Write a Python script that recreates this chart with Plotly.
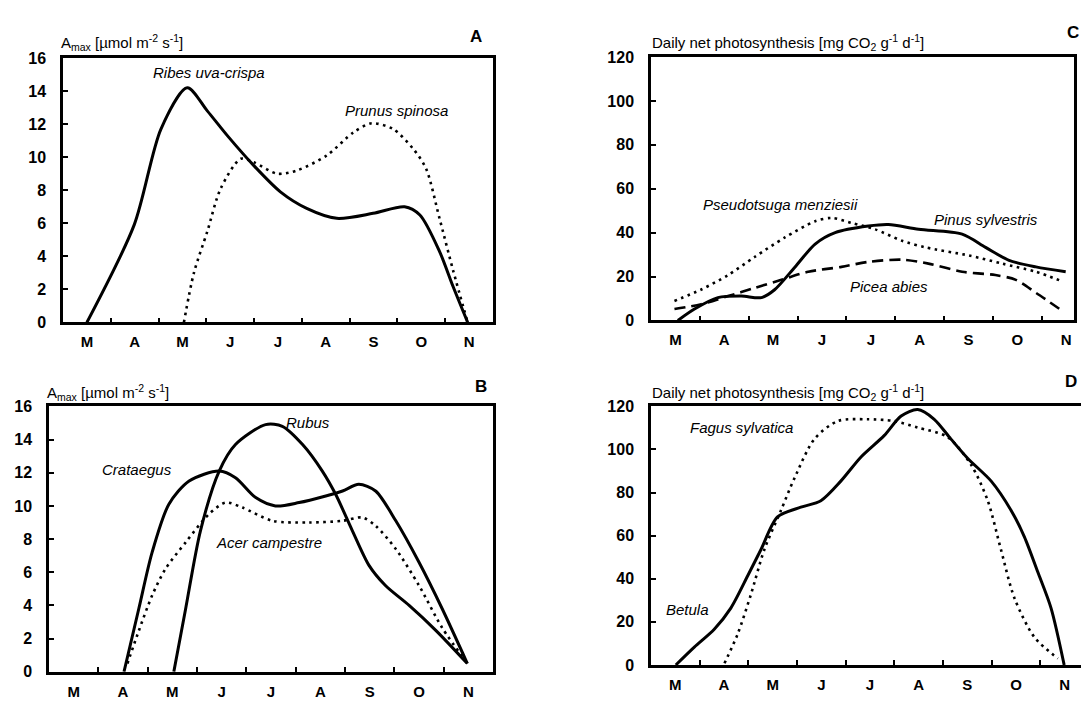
import plotly.graph_objects as go

# ---------------- data ----------------
months = ["M", "A", "M", "J", "J", "A", "S", "O", "N"]

# Panel A  (A_max, µmol m-2 s-1); x in months from start of March
ribes_x = [0.5, 1.49, 2.05, 2.6, 3.02, 3.44, 3.99, 4.55, 5.1, 5.73, 6.49, 7.15, 7.47, 7.88, 8.16, 8.47]
ribes_y = [0, 5.9, 11.7, 14.2, 12.8, 11.3, 9.5, 7.9, 6.9, 6.3, 6.6, 7.0, 6.5, 4.3, 2.2, 0]
prunus_x = [2.53, 2.74, 3.02, 3.3, 3.72, 3.99, 4.48, 4.9, 5.52, 6.08, 6.46, 6.91, 7.33, 7.6, 7.88, 8.16, 8.47]
prunus_y = [0, 3.0, 5.5, 8.1, 9.9, 9.7, 9.0, 9.2, 10.1, 11.5, 12.05, 11.7, 10.5, 9.3, 6.3, 3.2, 0]

# Panel B
crataegus_x = [1.52, 1.82, 2.09, 2.43, 2.84, 3.45, 3.78, 4.19, 4.59, 5.07, 5.61, 5.95, 6.28, 6.62, 7.03, 7.5, 7.97, 8.48]
crataegus_y = [0, 3.8, 7.2, 10.1, 11.5, 12.1, 11.7, 10.5, 10.0, 10.2, 10.6, 10.9, 11.3, 10.9, 9.1, 6.6, 3.8, 0.5]
rubus_x = [2.53, 2.77, 3.07, 3.45, 3.78, 4.39, 4.73, 5.14, 5.54, 5.81, 6.15, 6.49, 6.82, 7.3, 7.84, 8.48]
rubus_y = [0, 3.8, 8.5, 12.1, 13.7, 14.9, 14.8, 13.7, 12.1, 10.7, 8.5, 6.4, 5.2, 4.0, 2.5, 0.5]
acer_x = [1.59, 1.8, 2.09, 2.36, 2.77, 3.24, 3.58, 3.92, 4.53, 5.27, 5.95, 6.35, 6.62, 7.03, 7.5, 7.97, 8.48]
acer_y = [0.5, 2.3, 4.6, 6.2, 7.8, 9.5, 10.2, 9.9, 9.1, 9.0, 9.1, 9.3, 8.8, 7.4, 5.2, 2.65, 0.5]

# Panel C  (daily net photosynthesis, mg CO2 g-1 d-1)
pinus_x = [0.55, 0.89, 1.37, 1.85, 2.26, 2.53, 2.95, 3.36, 3.77, 4.45, 4.86, 5.48, 6.37, 6.85, 7.33, 7.88, 8.49]
pinus_y = [0, 5.2, 10.4, 11.1, 10.4, 14, 24.4, 34.8, 40, 43, 43.7, 41.5, 39.3, 33.3, 27.4, 24.4, 22.2]
pseudotsuga_x = [0.48, 1.03, 1.58, 2.12, 2.74, 3.36, 3.7, 4.11, 4.59, 5.14, 5.62, 6.51, 7.19, 7.88, 8.42]
pseudotsuga_y = [8.9, 14.1, 20.7, 28.9, 37.8, 45.2, 46.7, 44.4, 41.5, 36.3, 33.3, 29.6, 25.9, 22.2, 17.8]
picea_x = [0.48, 1.03, 1.58, 2.12, 2.67, 3.22, 3.9, 4.45, 5.14, 5.68, 6.37, 7.05, 7.47, 7.88, 8.42]
picea_y = [5.2, 7.4, 11.1, 14.8, 18.5, 22.2, 24.4, 26.7, 27.7, 25.9, 22.2, 20.7, 18.5, 12.6, 4.4]

# Panel D
betula_x = [0.51, 0.89, 1.3, 1.64, 1.99, 2.26, 2.6, 3.08, 3.49, 3.9, 4.32, 4.79, 5.14, 5.48, 5.82, 6.16, 6.51, 6.99, 7.4, 7.67, 7.95, 8.22, 8.49]
betula_y = [0, 8.3, 16.6, 26.4, 41.5, 53.6, 68.7, 73.2, 76.2, 85.3, 96.6, 106.4, 115.5, 118.5, 114, 104.9, 95.8, 85.3, 71.7, 59.6, 43, 26.4, 0]
fagus_x = [1.51, 1.78, 2.05, 2.33, 2.67, 2.95, 3.36, 3.84, 4.45, 4.99, 5.48, 6.1, 6.58, 6.92, 7.19, 7.47, 7.88, 8.36]
fagus_y = [0.8, 14.3, 32.5, 53.6, 71.7, 86.8, 104.9, 113.2, 114, 113.2, 110.2, 105.7, 92.8, 76.2, 53.6, 30.9, 12.8, 3]

amax_ticks = [0, 2, 4, 6, 8, 10, 12, 14, 16]
dnp_ticks = [0, 20, 40, 60, 80, 100, 120]

# ---------------- figure ----------------
W, H = 1089, 705
FONT = "Liberation Sans Narrow, Liberation Sans, Arial, sans-serif"

fig = go.Figure()

SOLID = dict(color="black", width=3, dash="solid")
DOT = dict(color="black", width=2.6, dash="2.6px,4.4px")
DASH = dict(color="black", width=2.6, dash="11px,6px")

def add(x, y, line, ax):
    fig.add_trace(go.Scatter(x=x, y=y, mode="lines", line=dict(shape="spline", smoothing=0.8, **line),
                             xaxis="x" + ax, yaxis="y" + ax, showlegend=False, hoverinfo="skip"))

add(ribes_x, ribes_y, SOLID, "")
add(prunus_x, prunus_y, DOT, "")
add(crataegus_x, crataegus_y, SOLID, "2")
add(rubus_x, rubus_y, SOLID, "2")
add(acer_x, acer_y, DOT, "2")
add(pinus_x, pinus_y, SOLID, "3")
add(pseudotsuga_x, pseudotsuga_y, DOT, "3")
add(picea_x, picea_y, DASH, "3")
add(betula_x, betula_y, SOLID, "4")
add(fagus_x, fagus_y, DOT, "4")

def px_dom(x0, x1):
    return [x0 / W, x1 / W]

def py_dom(top, bottom):
    return [1 - bottom / H, 1 - top / H]

panels = {
    "": dict(x=(55, 485), y=(43, 314), xr=9, yt=amax_ticks),
    "2": dict(x=(41, 485), y=(400, 672), xr=9, yt=amax_ticks),
    "3": dict(x=(643, 1066), y=(42, 312), xr=8.66, yt=dnp_ticks),
    "4": dict(x=(643, 1081), y=(400, 665), xr=9, yt=dnp_ticks),
}

layout = dict(width=W, height=H, margin=dict(l=0, r=0, t=0, b=0),
              paper_bgcolor="white", plot_bgcolor="white", showlegend=False)

month_centres = [i + 0.5 for i in range(len(months))]
month_bounds = list(range(1, len(months)))

for k, p in panels.items():
    xa = "xaxis" + k
    ya = "yaxis" + k
    layout[xa] = dict(domain=px_dom(*p["x"]), range=[0, p["xr"]], anchor="y" + k,
                      showline=True, mirror=True, linecolor="black", linewidth=2.5,
                      showgrid=False, zeroline=False, ticks="",
                      tickmode="array", tickvals=month_centres, ticktext=months,
                      tickfont=dict(family=FONT, size=15, color="black", weight="bold"),
                      ticklabelstandoff=4,
                      minor=dict(tickmode="array", tickvals=month_bounds, ticks="inside",
                                 ticklen=5, tickwidth=2, tickcolor="black", showgrid=False),
                      fixedrange=True)
    yr = [p["yt"][0], p["yt"][-1]]
    layout[ya] = dict(domain=py_dom(*p["y"]), range=yr, anchor="x" + k,
                      showline=True, mirror=True, linecolor="black", linewidth=2.5,
                      showgrid=False, zeroline=False, ticks="inside", ticklen=5, tickwidth=2,
                      tickcolor="black", tickmode="array", tickvals=p["yt"],
                      tickfont=dict(family=FONT, size=16, color="black", weight="bold"),
                      ticklabelstandoff=11, fixedrange=True)

fig.update_layout(**layout)

amax_title = "A<sub>max</sub> [µmol m<sup>-2</sup> s<sup>-1</sup>]"
dnp_title = "Daily net photosynthesis [mg CO<sub>2</sub> g<sup>-1</sup> d<sup>-1</sup>]"

def paper_note(text, x, y, size, xanchor="left", bold=False):
    fig.add_annotation(text=text, x=x / W, y=1 - y / H, xref="paper", yref="paper",
                       xanchor=xanchor, yanchor="middle", showarrow=False,
                       font=dict(family=FONT, size=size, color="black",
                                 weight="bold" if bold else "normal"))

paper_note(amax_title, 51, 27, 15)
paper_note(amax_title, 37, 386, 15)
paper_note(dnp_title, 642, 27, 15)
paper_note(dnp_title, 642, 386, 15)
paper_note("A", 468, 21, 17, "center", True)
paper_note("B", 473, 380, 17, "center", True)
paper_note("C", 1065, 17, 17, "center", True)
paper_note("D", 1063, 375, 17, "center", True)

def species(text, x, y, ax):
    fig.add_annotation(text="<i>" + text + "</i>", x=x, y=y, xref="x" + ax, yref="y" + ax,
                       showarrow=False, xanchor="center", yanchor="middle",
                       font=dict(family=FONT, size=15, color="black"))

species("Ribes uva-crispa", 3.05, 15.1, "")
species("Prunus spinosa", 6.97, 12.8, "")
species("Crataegus", 1.78, 12.2, "2")
species("Rubus", 5.25, 15.0, "2")
species("Acer campestre", 4.46, 7.8, "2")
species("Pseudotsuga menziesii", 2.65, 52.9, "3")
species("Pinus sylvestris", 6.85, 46.2, "3")
species("Picea abies", 4.88, 15.6, "3")
species("Fagus sylvatica", 1.85, 110, "4")
species("Betula", 0.76, 25.8, "4")

fig.write_html("out.html")
